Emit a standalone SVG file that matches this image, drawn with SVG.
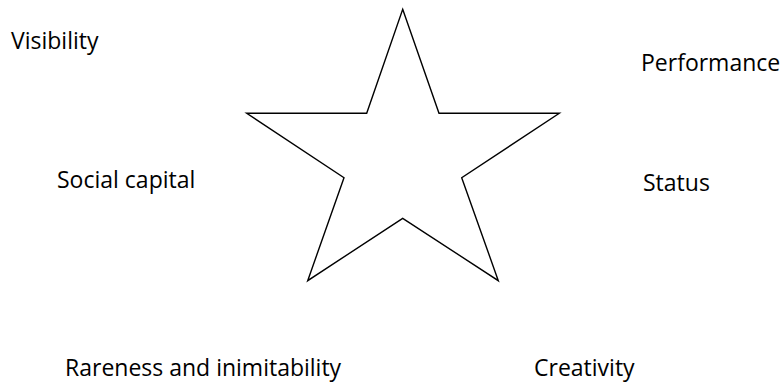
<svg xmlns="http://www.w3.org/2000/svg" width="782" height="384" viewBox="0 0 782 384">
<style>
.lbl{font-family:"Open Sans","Liberation Sans",sans-serif;font-size:23px;fill:#000}
.star{fill:#fff;stroke:#000;stroke-width:1.4;stroke-linejoin:miter}
</style>
<rect width="782" height="384" fill="#fff"/>
<g id="star"><polygon class="star" points="402.7,9.3 439,113.3 559.3,113.3 461.7,177.7 498.3,280.7 402.7,218.3 307.7,280.7 344,177.7 246.7,113.3 366.7,113.3"/></g>
<g id="connectors"></g>
<g id="visibility"><text class="lbl" x="11" y="48.5">Visibility</text></g>
<g id="performance"><text class="lbl" x="641" y="71">Performance</text></g>
<g id="social-capital"><text class="lbl" x="57" y="188">Social capital</text></g>
<g id="status"><text class="lbl" x="643" y="191">Status</text></g>
<g id="rareness"><text class="lbl" x="65" y="376">Rareness and inimitability</text></g>
<g id="creativity"><text class="lbl" x="534" y="376">Creativity</text></g>
</svg>
